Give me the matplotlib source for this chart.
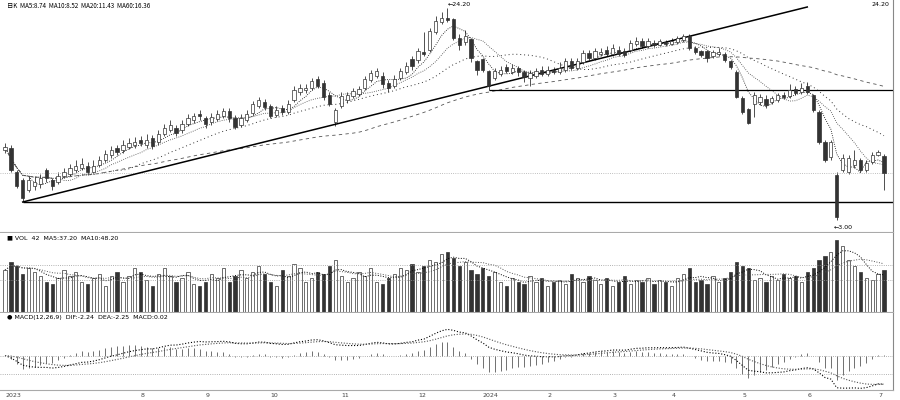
import numpy as np
import pandas as pd
import matplotlib
matplotlib.use("Agg")
import matplotlib.pyplot as plt

# daily candles: open, close, high, low
opens = [10.0, 10.2, 7.8, 7.0, 6.0, 6.4, 6.6, 8.0, 7.0, 6.8,
         7.4, 7.6, 8.0, 8.2, 8.4, 7.8, 8.5, 9.0, 9.5, 10.2,
         10.0, 10.3, 10.5, 11.0, 10.5, 11.2, 10.8, 11.6, 12.0, 12.2,
         12.0, 12.6, 13.0, 13.6, 13.2, 12.8, 13.1, 13.4, 13.8, 13.2,
         12.5, 13.0, 13.7, 14.4, 14.8, 14.4, 13.5, 14.2, 13.8, 15.0,
         15.8, 16.0, 16.2, 17.0, 16.6, 15.4, 12.8, 14.4, 15.0, 15.4,
         15.6, 16.2, 17.0, 17.4, 17.4, 16.6, 16.4, 17.2, 17.8, 19.0,
         19.0, 19.8, 20.0, 21.8, 22.8, 23.2, 23.0, 21.2, 20.8, 21.0,
         18.8, 19.0, 17.8, 17.2, 17.6, 18.2, 17.8, 18.2, 17.8, 17.2,
         17.4, 18.0, 17.6, 18.0, 17.8, 18.0, 18.8, 18.2, 18.8, 19.6,
         19.2, 19.6, 20.0, 19.6, 20.0, 19.8, 20.0, 20.6, 20.8, 20.4,
         20.7, 20.5, 20.8, 20.6, 20.8, 21.0, 21.4, 20.2, 19.8, 19.8,
         19.4, 19.6, 19.5, 18.8, 17.8, 15.2, 14.0, 14.6, 14.8, 15.1,
         14.8, 15.0, 15.5, 15.4, 16.0, 15.8, 16.4, 15.4, 13.8, 10.8,
         9.3, 7.5, 8.0, 7.8, 8.5, 9.0, 8.0, 8.8, 9.5, 9.4]
closes = [10.3, 8.0, 6.4, 5.2, 7.0, 6.8, 7.2, 7.2, 6.4, 7.4,
          7.8, 8.2, 8.4, 8.6, 7.8, 8.4, 9.0, 9.6, 10.0, 9.8,
          10.5, 10.7, 10.8, 10.7, 11.0, 10.4, 11.6, 12.2, 12.4, 11.7,
          12.6, 13.2, 13.3, 13.4, 12.6, 13.3, 13.5, 13.8, 13.2, 12.3,
          13.2, 13.6, 14.5, 15.0, 14.3, 13.4, 14.0, 13.8, 14.6, 16.0,
          16.2, 16.2, 16.8, 16.4, 15.3, 14.6, 14.0, 15.4, 15.4, 15.8,
          16.0, 17.0, 17.6, 17.8, 16.6, 16.2, 17.0, 17.8, 18.4, 18.4,
          19.8, 19.6, 21.8, 22.8, 23.2, 23.0, 21.2, 20.5, 21.4, 19.2,
          18.0, 18.0, 16.4, 17.8, 18.0, 17.9, 18.2, 17.8, 17.3, 17.6,
          17.8, 17.6, 18.0, 17.8, 18.2, 18.8, 18.2, 18.8, 19.6, 19.2,
          19.8, 19.8, 19.6, 20.2, 19.6, 19.5, 20.6, 20.9, 20.4, 20.8,
          20.5, 20.8, 20.6, 20.9, 21.1, 21.4, 20.2, 19.8, 19.5, 19.2,
          19.7, 19.8, 19.0, 18.3, 15.3, 13.8, 12.7, 15.4, 15.3, 14.5,
          15.2, 15.4, 15.3, 16.0, 15.7, 16.2, 15.8, 14.0, 10.8, 9.0,
          10.8, 3.3, 9.2, 9.2, 9.0, 8.0, 8.7, 9.5, 9.8, 7.7]
highs = [10.7, 10.5, 8.0, 7.2, 7.4, 7.4, 7.6, 8.2, 7.2, 7.8,
         8.2, 8.6, 9.0, 9.2, 8.8, 9.0, 9.4, 10.0, 10.4, 10.5,
         11.0, 11.2, 11.3, 11.4, 11.6, 11.5, 12.0, 12.6, 13.0, 12.5,
         13.0, 13.6, 13.7, 14.0, 13.4, 13.7, 14.0, 14.2, 14.2, 13.5,
         13.6, 14.0, 14.9, 15.3, 15.1, 14.6, 14.4, 14.5, 15.0, 16.4,
         16.6, 16.6, 17.2, 17.4, 17.0, 15.8, 14.2, 15.8, 15.8, 16.2,
         16.4, 17.4, 18.0, 18.2, 17.8, 17.0, 17.5, 18.2, 18.8, 19.4,
         20.2, 21.8, 22.2, 23.4, 23.8, 24.2, 23.2, 21.6, 22.0, 21.2,
         19.0, 19.2, 18.0, 18.2, 18.4, 18.6, 18.6, 18.4, 18.0, 18.0,
         18.2, 18.4, 18.4, 18.3, 18.8, 19.2, 19.2, 19.2, 20.0, 20.0,
         20.2, 20.2, 20.4, 20.6, 20.4, 20.2, 21.0, 21.3, 21.2, 21.2,
         21.0, 21.1, 21.0, 21.2, 21.4, 21.6, 21.6, 20.4, 20.0, 20.0,
         20.0, 20.2, 19.8, 19.0, 18.0, 15.4, 14.2, 15.8, 15.6, 15.5,
         15.4, 15.7, 15.8, 16.6, 16.4, 16.7, 16.8, 15.6, 14.0, 11.0,
         11.0, 7.8, 9.6, 9.5, 10.0, 9.2, 9.0, 9.8, 10.0, 9.6]
lows = [9.7, 7.8, 6.2, 4.8, 5.8, 6.0, 6.2, 6.8, 6.0, 6.6,
        7.2, 7.4, 7.8, 8.0, 7.5, 7.6, 8.3, 8.8, 9.2, 9.5,
        9.7, 10.1, 10.2, 10.4, 10.2, 10.1, 10.5, 11.4, 11.8, 11.4,
        11.7, 12.4, 12.7, 13.0, 12.2, 12.5, 12.9, 13.2, 12.8, 12.1,
        12.3, 12.8, 13.5, 14.2, 14.0, 13.2, 13.3, 13.5, 13.6, 14.8,
        15.5, 15.7, 16.0, 16.2, 15.0, 14.4, 12.4, 14.2, 14.7, 15.2,
        15.4, 16.0, 16.8, 17.2, 16.2, 15.8, 16.2, 17.0, 17.6, 18.0,
        18.7, 19.4, 19.8, 21.6, 22.6, 22.8, 21.0, 20.0, 20.5, 18.8,
        17.5, 17.8, 16.0, 17.0, 17.4, 17.7, 17.6, 17.4, 16.8, 16.4,
        17.2, 17.4, 17.4, 17.6, 17.6, 17.8, 18.0, 18.0, 18.6, 19.0,
        19.0, 19.4, 19.4, 19.4, 19.4, 19.3, 19.8, 20.4, 20.2, 20.2,
        20.3, 20.4, 20.4, 20.5, 20.6, 20.8, 20.0, 19.6, 19.3, 18.8,
        19.2, 19.4, 18.8, 18.1, 15.2, 13.6, 12.6, 13.3, 14.5, 14.2,
        14.6, 14.8, 15.1, 15.2, 15.5, 15.6, 15.6, 13.8, 10.6, 8.8,
        9.0, 3.0, 7.8, 7.6, 8.2, 7.8, 7.8, 8.6, 9.4, 6.0]
volumes = [42, 50, 46, 38, 44, 40, 36, 30, 28, 34,
           42, 36, 40, 30, 28, 34, 38, 26, 36, 40,
           30, 36, 44, 40, 32, 26, 38, 44, 36, 30,
           34, 40, 28, 26, 30, 38, 34, 44, 30, 36,
           42, 34, 40, 46, 38, 30, 26, 42, 36, 48,
           44, 30, 34, 40, 38, 46, 52, 36, 30, 34,
           40, 36, 44, 30, 28, 34, 38, 44, 42, 48,
           40, 46, 52, 50, 58, 60, 54, 46, 50, 42,
           38, 44, 36, 40, 30, 26, 34, 30, 28, 36,
           30, 34, 26, 30, 32, 28, 38, 34, 30, 36,
           32, 28, 34, 26, 30, 36, 28, 32, 30, 34,
           28, 32, 30, 26, 34, 38, 44, 30, 32, 28,
           36, 30, 34, 40, 50, 46, 44, 32, 34, 30,
           36, 32, 38, 34, 36, 30, 40, 44, 52, 56,
           60, 72, 66, 52, 46, 40, 34, 32, 38, 42]

support_low = 4.8
support_mid = 16.0
ref_level = 7.7
trend_x = [3, 136]
trend_y = [4.8, 24.3]
tick_pos = [0, 23, 34, 45, 57, 70, 81, 92, 103, 113, 125, 136, 148]
tick_labels = ['2023', '8', '9', '10', '11', '12', '2024', '2', '3', '4', '5', '6', '7']

o = np.array(opens)
c = np.array(closes)
h = np.array(highs)
l = np.array(lows)
v = np.array(volumes)
x = np.arange(len(c))
up = c >= o
dark = '#333333'

cs = pd.Series(c)
ma5 = cs.rolling(5, min_periods=1).mean()
ma10 = cs.rolling(10, min_periods=1).mean()
ma20 = cs.rolling(20, min_periods=1).mean()
ma60 = cs.rolling(60, min_periods=1).mean()
vs = pd.Series(v)
vma5 = vs.rolling(5, min_periods=1).mean()
vma10 = vs.rolling(10, min_periods=1).mean()
dif = cs.ewm(span=12, adjust=False).mean() - cs.ewm(span=26, adjust=False).mean()
dea = dif.ewm(span=9, adjust=False).mean()
hist = 2 * (dif - dea)

fig = plt.figure(figsize=(9, 4), dpi=100)
ax1 = fig.add_axes([0.0, 0.42, 0.992, 0.58])
ax2 = fig.add_axes([0.0, 0.22, 0.992, 0.1975])
ax3 = fig.add_axes([0.0, 0.025, 0.992, 0.1925])

xlim = (-0.85, 150.5)
for ax in (ax1, ax2, ax3):
    ax.set_xlim(*xlim)
    ax.set_xticks([])
    ax.set_yticks([])
    for s in ax.spines.values():
        s.set_visible(False)
    ax.spines['right'].set_visible(True)
    ax.spines['right'].set_color('#888888')
    ax.spines['bottom'].set_visible(True)
    ax.spines['bottom'].set_color('#aaaaaa')

# price panel
w = 0.55
ax1.vlines(x, l, h, color=dark, lw=0.6, zorder=2)
ax1.bar(x, np.abs(c - o) + 0.05, w, bottom=np.minimum(o, c),
        color=np.where(up, 'white', dark), edgecolor=dark, lw=0.5, zorder=3)
ax1.plot(x, ma5, ':', color='black', lw=0.6)
ax1.plot(x, ma10, ':', color='#444444', lw=0.6)
ax1.plot(x, ma20, linestyle=(0, (1, 3)), color='#333333', lw=0.7)
ax1.plot(x, ma60, linestyle=(0, (4, 4)), color='#555555', lw=0.6)
ax1.hlines(support_low, trend_x[0], xlim[1], color='black', lw=1.0)
ax1.hlines(support_mid, 82, xlim[1], color='black', lw=0.9)
ax1.axhline(ref_level, color='#aaaaaa', lw=0.6, ls=':')
ax1.plot(trend_x, trend_y, color='black', lw=1.1)
ax1.set_ylim(1.8, 25.0)
ax1.text(int(np.argmax(h)), h.max() + 0.1, '←%.2f' % h.max(), fontsize=4.5, va='bottom', ha='left')
ax1.text(int(np.argmin(l)) - 0.5, l.min() - 0.5, '←%.2f' % l.min(), fontsize=4.5, va='top', ha='left')
ax1.text(0.3, 24.8, '日K  MA5:%.2f  MA10:%.2f  MA20:%.2f  MA60:%.2f' % (ma5.iloc[-1], ma10.iloc[-1], ma20.iloc[-1], ma60.iloc[-1]),
         fontsize=4.5, va='top', ha='left', family=['Noto Sans CJK SC', 'DejaVu Sans'])
ax1.text(xlim[1] - 0.5, 24.8, '%.2f' % h.max(), fontsize=4.5, va='top', ha='right')

# volume panel
ax2.bar(x, v, w, color=np.where(up, 'white', dark), edgecolor=dark, lw=0.5)
ax2.plot(x, vma5, ':', color='black', lw=0.7)
ax2.plot(x, vma10, ':', color='#555555', lw=0.7)
ax2.axhline(32, color='#999999', lw=0.6, ls=':')
ax2.axhline(47, color='#999999', lw=0.6, ls=':')
ax2.set_ylim(0, 79)
ax2.text(0.3, 77, '■ VOL  %.0f  MA5:%.2f  MA10:%.2f' % (v[-1], vma5.iloc[-1], vma10.iloc[-1]),
         fontsize=4.5, va='top', ha='left')

# MACD panel
m = max(abs(dif.max()), abs(dif.min()), abs(hist.max()), abs(hist.min()))
ax3.vlines(x, 0, hist, color='#222222', lw=0.45)
ax3.plot(x, dif, ':', color='black', lw=0.8)
ax3.plot(x, dea, linestyle=(0, (1, 1.5)), color='#555555', lw=0.8)
ax3.axhline(0, color='#999999', lw=0.6, ls=':')
ax3.axhline(-m * 0.55, color='#999999', lw=0.6, ls=':')
ax3.set_ylim(-m * 1.05, m * 1.3)
ax3.text(0.3, m * 1.25, '● MACD(12,26,9)  DIF:%.2f  DEA:%.2f  MACD:%.2f' % (dif.iloc[-1], dea.iloc[-1], hist.iloc[-1]),
         fontsize=4.5, va='top', ha='left')

for p, t in zip(tick_pos, tick_labels):
    fig.text((p - xlim[0]) / (xlim[1] - xlim[0]) * 0.992, 0.005, t, fontsize=4.5, color='#444444', ha='left', va='bottom')

fig.savefig('out.png', dpi=100, facecolor='white')
